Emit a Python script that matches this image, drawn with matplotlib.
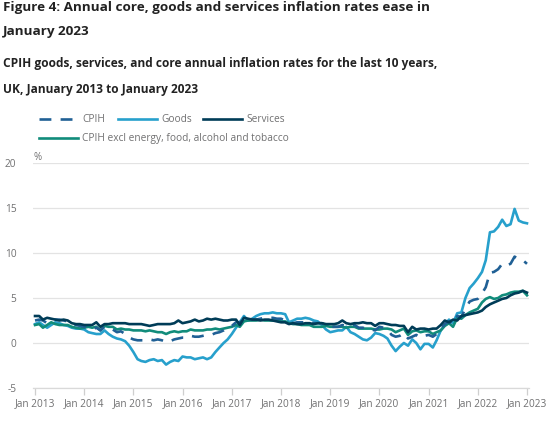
import matplotlib
matplotlib.use("Agg")
import matplotlib.pyplot as plt
import numpy as np
import pandas as pd
from matplotlib.lines import Line2D

months = pd.date_range("2013-01-01", "2023-01-01", freq="MS")

cpih = [2.5, 2.6, 2.5, 2.2, 2.4, 2.6, 2.6, 2.5, 2.4, 2.1, 2.0, 1.9,
        1.8, 1.6, 1.5, 1.7, 1.4, 1.8, 1.6, 1.5, 1.2, 1.3, 1.0, 0.6,
        0.4, 0.3, 0.3, 0.3, 0.4, 0.3, 0.4, 0.3, 0.1, 0.2, 0.4, 0.5,
        0.6, 0.6, 0.8, 0.7, 0.7, 0.8, 0.9, 0.9, 1.1, 1.2, 1.4, 1.8,
        1.9, 2.3, 2.3, 2.6, 2.7, 2.6, 2.6, 2.7, 2.8, 2.8, 2.8, 2.7,
        2.7, 2.5, 2.3, 2.2, 2.3, 2.3, 2.3, 2.4, 2.2, 2.2, 2.2, 2.0,
        1.8, 1.8, 1.8, 2.0, 1.9, 1.9, 2.0, 1.7, 1.7, 1.5, 1.5, 1.4,
        1.8, 1.7, 1.5, 0.9, 0.7, 0.8, 1.1, 0.5, 0.7, 0.9, 0.6, 0.8,
        0.9, 0.7, 1.0, 1.6, 2.1, 2.4, 2.1, 3.0, 2.9, 3.8, 4.6, 4.8,
        4.9, 5.5, 6.2, 7.8, 7.9, 8.2, 8.8, 8.6, 8.8, 9.6, 9.3, 9.2,
        8.8]

goods = [2.1, 2.3, 2.0, 1.7, 2.0, 2.3, 2.2, 2.0, 1.9, 1.7, 1.6, 1.6,
         1.5, 1.2, 1.1, 1.0, 1.0, 1.4, 1.0, 0.7, 0.5, 0.4, 0.2, -0.3,
         -1.0, -1.8, -2.0, -2.1, -1.9, -1.8, -2.0, -1.9, -2.4, -2.1, -1.9, -2.0,
         -1.5, -1.6, -1.6, -1.8, -1.7, -1.6, -1.8, -1.6, -1.0, -0.5, 0.0, 0.4,
         1.0, 1.7, 2.3, 3.0, 2.5, 2.7, 3.0, 3.2, 3.3, 3.3, 3.4, 3.3,
         3.3, 3.2, 2.3, 2.5, 2.7, 2.7, 2.8, 2.7, 2.5, 2.4, 2.0, 1.5,
         1.2, 1.3, 1.4, 1.4, 1.8, 1.2, 1.0, 0.7, 0.4, 0.3, 0.6, 1.1,
         1.0, 0.8, 0.5, -0.3, -0.9, -0.4, 0.0, -0.3, 0.4, 0.0, -0.7, -0.1,
         -0.1, -0.5, 0.3, 1.4, 2.0, 2.6, 2.2, 3.3, 3.4, 5.0, 6.1, 6.6,
         7.2, 7.9, 9.2, 12.3, 12.4, 12.9, 13.7, 13.0, 13.2, 14.9, 13.6, 13.4,
         13.3]

services = [3.0, 3.0, 2.6, 2.8, 2.7, 2.6, 2.5, 2.6, 2.5, 2.2, 2.1, 2.1,
            2.0, 2.0, 2.0, 2.3, 1.8, 2.1, 2.1, 2.2, 2.2, 2.2, 2.2, 2.1,
            2.1, 2.1, 2.1, 2.0, 1.9, 2.0, 2.1, 2.1, 2.1, 2.1, 2.2, 2.5,
            2.2, 2.3, 2.4, 2.6, 2.4, 2.5, 2.7, 2.6, 2.7, 2.6, 2.5, 2.5,
            2.6, 2.6, 2.0, 2.8, 2.7, 2.6, 2.6, 2.5, 2.6, 2.6, 2.5, 2.4,
            2.3, 2.3, 2.1, 2.2, 2.1, 2.1, 2.2, 2.2, 2.1, 2.2, 2.2, 2.1,
            2.1, 2.1, 2.2, 2.5, 2.2, 2.1, 2.2, 2.2, 2.3, 2.2, 2.2, 1.9,
            2.2, 2.2, 2.1, 2.0, 2.0, 1.9, 1.9, 1.2, 1.8, 1.5, 1.6, 1.6,
            1.5, 1.6, 1.6, 2.0, 2.5, 2.3, 2.6, 2.5, 3.0, 3.1, 3.2, 3.3,
            3.4, 3.6, 4.0, 4.3, 4.5, 4.7, 4.9, 5.0, 5.3, 5.5, 5.6, 5.8,
            5.6]

core = [2.0, 2.1, 1.7, 2.0, 2.3, 2.1, 2.0, 2.0, 2.0, 1.8, 1.7, 1.6,
        1.7, 1.8, 1.7, 1.8, 1.4, 1.9, 1.8, 1.8, 1.5, 1.6, 1.5, 1.5,
        1.4, 1.4, 1.4, 1.3, 1.4, 1.3, 1.2, 1.2, 1.0, 1.2, 1.3, 1.2,
        1.3, 1.3, 1.5, 1.4, 1.4, 1.4, 1.5, 1.5, 1.6, 1.5, 1.6, 1.7,
        1.8, 2.0, 1.8, 2.4, 2.5, 2.5, 2.5, 2.6, 2.5, 2.5, 2.5, 2.5,
        2.4, 2.4, 2.2, 2.1, 2.1, 2.0, 2.0, 2.0, 1.8, 1.8, 1.8, 1.9,
        1.8, 1.8, 1.8, 1.8, 1.7, 1.8, 1.8, 1.6, 1.6, 1.6, 1.6, 1.5,
        1.5, 1.6, 1.6, 1.5, 1.2, 1.4, 1.6, 0.9, 1.3, 1.4, 1.2, 1.3,
        1.3, 1.0, 1.2, 1.4, 1.9, 2.2, 1.8, 2.8, 2.7, 3.1, 3.4, 3.6,
        3.8, 4.5, 4.9, 5.1, 4.9, 5.0, 5.3, 5.4, 5.6, 5.7, 5.7, 5.8,
        5.3]

series_names = ["CPIH", "Goods", "Services", "CPIH excl energy, food, alcohol and tobacco"]
tick_years = list(range(2013, 2024))
y_ticks = [-5, 0, 5, 10, 15, 20]

title_lines = ["Figure 4: Annual core, goods and services inflation rates ease in",
               "January 2023"]
subtitle_lines = ["CPIH goods, services, and core annual inflation rates for the last 10 years,",
                  "UK, January 2013 to January 2023"]

plt.rcParams['font.family'] = ['Open Sans', 'DejaVu Sans']

W, H = 550, 423
fig = plt.figure(figsize=(W / 100, H / 100), dpi=100)

# axes placement in pixels
ax_left, ax_right, ax_top, ax_bottom = 33, 529, 163, 388
ax = fig.add_axes([ax_left / W, 1 - ax_bottom / H, (ax_right - ax_left) / W, (ax_bottom - ax_top) / H])

C_CPIH = "#206095"
C_GOODS = "#27a0cc"
C_SERV = "#003c57"
C_CORE = "#118c7b"
lw = 1.9

ax.plot(months, goods, color=C_GOODS, lw=lw, zorder=3)
ax.plot(months, core, color=C_CORE, lw=lw, zorder=4)
ax.plot(months, cpih, color=C_CPIH, lw=lw, ls=(0, (4.5, 3.5)), zorder=5)
ax.plot(months, services, color=C_SERV, lw=lw, zorder=6)

x0 = months[0] - pd.Timedelta(days=15)
x1 = months[-1] + pd.Timedelta(days=15)
ax.set_xlim(x0, x1)
ax.set_ylim(-5, 20)

ax.set_yticks(y_ticks)
ax.set_yticklabels([str(v) for v in y_ticks])
ax.yaxis.grid(True, color="#e3e3e3", lw=0.9)
ax.set_axisbelow(True)
xt = [pd.Timestamp(f"{y}-01-01") for y in tick_years]
ax.set_xticks(xt)
ax.set_xticklabels([f"Jan {y}" for y in tick_years])
ax.tick_params(axis="y", length=0, pad=12, labelsize=7.3, labelcolor="#707071")
ax.tick_params(axis="x", length=5, width=0.9, color="#cfcfcf", pad=2.5, labelsize=7.3, labelcolor="#707071")
for s in ["top", "right", "left"]:
    ax.spines[s].set_visible(False)
ax.spines["bottom"].set_color("#d9d9d9")
ax.spines["bottom"].set_linewidth(0.9)

fig.text(34 / W, 1 - 157 / H, "%", fontsize=7, color="#707071", va="center", ha="left")

# titles
def fit_text(x, y, s, target_w, fs, **kw):
    t = fig.text(x / W, 1 - y / H, s, fontsize=fs, va="center", ha="left", **kw)
    fig.canvas.draw()
    w = t.get_window_extent().width
    t.set_fontsize(fs * target_w / w)
    return t

fit_text(3, 7, title_lines[0], 425, 11, fontweight="bold", color="#222222")
t2 = fig.text(3 / W, 1 - 31 / H, title_lines[1], va="center", ha="left", fontweight="bold", color="#222222")
fig.canvas.draw()
t2.set_fontsize(fig.texts[-2].get_fontsize())
fit_text(3, 63, subtitle_lines[0], 439, 9.5, fontweight="bold", color="#222222")
t4 = fig.text(3 / W, 1 - 89 / H, subtitle_lines[1], va="center", ha="left", fontweight="bold", color="#222222")
t4.set_fontsize(fig.texts[-2].get_fontsize())

# legend (manual placement in figure pixels)
leg_items = [
    (39, 119, C_CPIH, (0, (4.5, 3.5)), series_names[0]),
    (118, 119, C_GOODS, "-", series_names[1]),
    (203, 119, C_SERV, "-", series_names[2]),
    (39, 138, C_CORE, "-", series_names[3]),
]
for (lx, ly, c, ls, lab) in leg_items:
    fig.add_artist(Line2D([lx / W, (lx + 39) / W], [1 - ly / H, 1 - ly / H], color=c, lw=lw, ls=ls,
                          transform=fig.transFigure))
    fig.text((lx + 43) / W, 1 - ly / H, lab, fontsize=7.3, color="#707071", va="center", ha="left")

fig.savefig("out.png", dpi=100)
